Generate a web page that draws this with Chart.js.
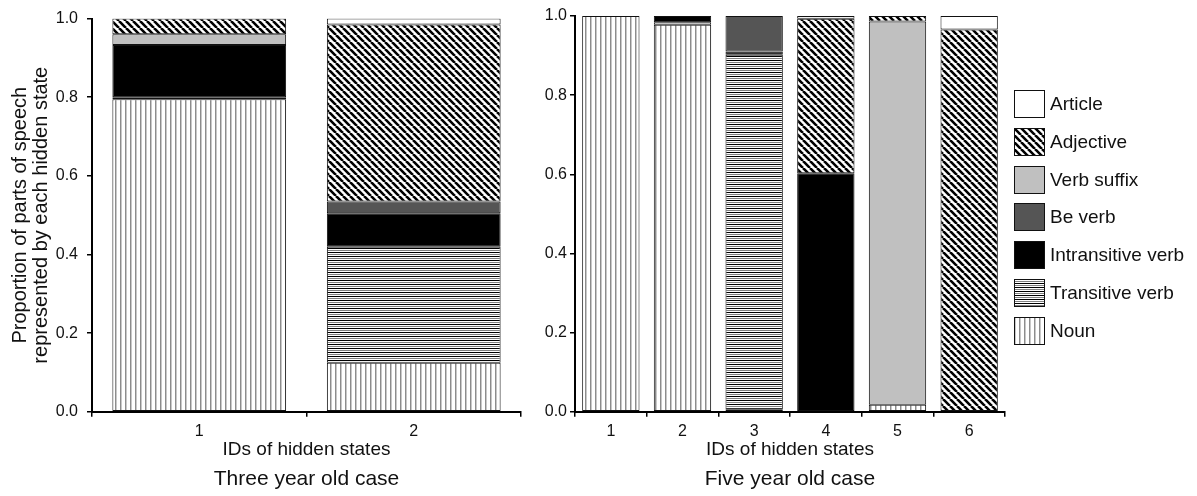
<!DOCTYPE html>
<html>
<head>
<meta charset="utf-8">
<script src="https://cdn.jsdelivr.net/npm/chart.js@4.4.1/dist/chart.umd.min.js"></script>
<style>
  html, body { margin: 0; padding: 0; background: #fff; }
  #wrap { position: relative; width: 1197px; height: 496px; overflow: hidden; font-family: "Liberation Sans", Arial, sans-serif; }
  #three { position: absolute; left: 0; top: 0; }
  #five  { position: absolute; left: 530px; top: 0; }
  #legend { position: absolute; left: 1014px; top: 90px; }
  .item { position: absolute; left: 0; height: 28px; white-space: nowrap; }
  .item canvas { position: absolute; left: 0; top: 0; }
  .item span { position: absolute; left: 36px; top: 2px; font-size: 19px; line-height: 24px; color: #111; }
</style>
</head>
<body>
<div id="wrap">
  <canvas id="three" width="530" height="496"></canvas>
  <canvas id="five" width="485" height="496"></canvas>
  <div id="legend"></div>
</div>
<script>
// ---------- data ----------

const POS_NAMES = ["Noun", "Transitive verb", "Intransitive verb", "Be verb", "Verb suffix", "Adjective", "Article"];

// Three year old case, hidden states 1–2
const THREE_STATES       = ["1", "2"];
const THREE_NOUN         = [0.795, 0.125];
const THREE_TRANSITIVE   = [0.005, 0.295];
const THREE_INTRANSITIVE = [0.133, 0.085];
const THREE_BE_VERB      = [0,     0.030];
const THREE_VERB_SUFFIX  = [0.027, 0];
const THREE_ADJECTIVE    = [0.040, 0.450];
const THREE_ARTICLE      = [0,     0.015];

// Five year old case, hidden states 1–6
const FIVE_STATES       = ["1", "2", "3", "4", "5", "6"];
const FIVE_NOUN         = [1.000, 0.978, 0.005, 0,     0.018, 0];
const FIVE_TRANSITIVE   = [0,     0.006, 0.897, 0,     0,     0];
const FIVE_INTRANSITIVE = [0,     0.016, 0.008, 0.603, 0,     0];
const FIVE_BE_VERB      = [0,     0,     0.090, 0,     0,     0];
const FIVE_VERB_SUFFIX  = [0,     0,     0,     0,     0.968, 0];
const FIVE_ADJECTIVE    = [0,     0,     0,     0.390, 0.014, 0.966];
const FIVE_ARTICLE      = [0,     0,     0,     0.007, 0,     0.034];

const Y_TICKS = [0, 0.2, 0.4, 0.6, 0.8, 1.0];

// ---------- fills ----------

function tile(w, h, draw) {
  const c = document.createElement("canvas");
  c.width = w; c.height = h;
  const g = c.getContext("2d");
  g.fillStyle = "#fff";
  g.fillRect(0, 0, w, h);
  draw(g);
  return c;
}

const TILES = {
  noun: tile(5, 1, g => {
    g.fillStyle = "#8c8c8c"; g.fillRect(0, 0, 1, 1);
    g.fillStyle = "#c8c8c8"; g.fillRect(1, 0, 1, 1);
  }),
  transitive: tile(1, 4, g => {
    g.fillStyle = "#000"; g.fillRect(0, 0, 1, 1);
    g.fillStyle = "#808080"; g.fillRect(0, 2, 1, 1);
  }),
  adjective: tile(7, 7, g => {
    g.strokeStyle = "#000";
    g.lineWidth = 2.6;
    g.beginPath();
    for (const k of [-7, 0, 7]) { g.moveTo(k, 0); g.lineTo(k + 7, 7); }
    g.stroke();
  }),
};

// fill style for each part of speech, in stacking order (bottom → top)
function fills(ctx) {
  return [
    ctx.createPattern(TILES.noun, "repeat"),
    ctx.createPattern(TILES.transitive, "repeat"),
    "#000000",
    "#555555",
    "#c0c0c0",
    ctx.createPattern(TILES.adjective, "repeat"),
    "#ffffff",
  ];
}

// ---------- charts ----------

const FONT = "'Liberation Sans', Arial, sans-serif";
const INK = "#111";

function makeChart(canvas, states, series, o) {
  const ctx = canvas.getContext("2d");
  const f = fills(ctx);
  const datasets = series.map((vals, i) => ({
    label: POS_NAMES[i],
    data: vals,
    backgroundColor: f[i],
    borderColor: "#111",
    borderWidth: 1,
    borderSkipped: false,
    categoryPercentage: 1,
    barPercentage: o.barPct,
  }));

  return new Chart(canvas, {
    type: "bar",
    data: { labels: states, datasets },
    options: {
      responsive: false,
      animation: false,
      layout: { padding: { left: 0, right: o.padRight, top: 16, bottom: 0 } },
      plugins: {
        legend: { display: false },
        tooltip: { enabled: false },
        title: {
          display: true,
          position: "bottom",
          fullSize: false,
          text: o.caption,
          color: INK,
          font: { family: FONT, size: 21, weight: "normal" },
          padding: { top: 0, bottom: 4 },
        },
      },
      scales: {
        x: {
          stacked: true,
          afterFit: s => { s.height = 55; },
          grid: { display: true, drawOnChartArea: false, drawTicks: true, tickLength: 5, color: "#000", lineWidth: 1.5 },
          border: { display: true, color: "#000", width: 2 },
          ticks: { color: INK, padding: 5, font: { family: FONT, size: 16 } },
          title: {
            display: true,
            text: "IDs of hidden states",
            color: INK,
            font: { family: FONT, size: 19 },
            padding: { top: 0, bottom: 6 },
          },
        },
        y: {
          stacked: true,
          min: 0,
          max: 1,
          afterFit: s => { s.width = o.yWidth; },
          afterBuildTicks: s => { s.ticks = Y_TICKS.map(v => ({ value: v })); },
          grid: { display: true, drawOnChartArea: false, drawTicks: true, tickLength: 5, color: "#000", lineWidth: 1.5 },
          border: { display: true, color: "#000", width: 2 },
          ticks: { color: INK, padding: o.tickPad, font: { family: FONT, size: 16 }, callback: v => Number(v).toFixed(1) },
          title: o.yTitle ? {
            display: true,
            text: o.yTitle,
            color: INK,
            font: { family: FONT, size: 20, lineHeight: 1.05 },
            padding: { top: 10, bottom: 0 },
          } : { display: false },
        },
      },
    },
  });
}

makeChart(document.getElementById("three"), THREE_STATES,
  [THREE_NOUN, THREE_TRANSITIVE, THREE_INTRANSITIVE, THREE_BE_VERB, THREE_VERB_SUFFIX, THREE_ADJECTIVE, THREE_ARTICLE],
  { barPct: 0.81, padRight: 9, yWidth: 92, tickPad: 9, caption: "Three year old case",
    yTitle: ["Proportion of parts of speech", "represented by each hidden state"] });

makeChart(document.getElementById("five"), FIVE_STATES,
  [FIVE_NOUN, FIVE_TRANSITIVE, FIVE_INTRANSITIVE, FIVE_BE_VERB, FIVE_VERB_SUFFIX, FIVE_ADJECTIVE, FIVE_ARTICLE],
  { barPct: 0.80, padRight: 10, yWidth: 45, tickPad: 3, caption: "Five year old case", yTitle: null });

// ---------- legend (top → bottom: Article … Noun) ----------

const legend = document.getElementById("legend");
const LEGEND_STEP = 37.8;
POS_NAMES.slice().reverse().forEach((name, i) => {
  const item = document.createElement("div");
  item.className = "item";
  item.style.top = (i * LEGEND_STEP) + "px";
  const sw = document.createElement("canvas");
  sw.width = 31; sw.height = 28;
  const g = sw.getContext("2d");
  g.fillStyle = fills(g)[POS_NAMES.length - 1 - i];
  g.fillRect(0, 0, 31, 28);
  g.strokeStyle = "#111";
  g.lineWidth = 1;
  g.strokeRect(0.5, 0.5, 30, 27);
  const label = document.createElement("span");
  label.textContent = name;
  item.appendChild(sw);
  item.appendChild(label);
  legend.appendChild(item);
});
</script>
</body>
</html>
